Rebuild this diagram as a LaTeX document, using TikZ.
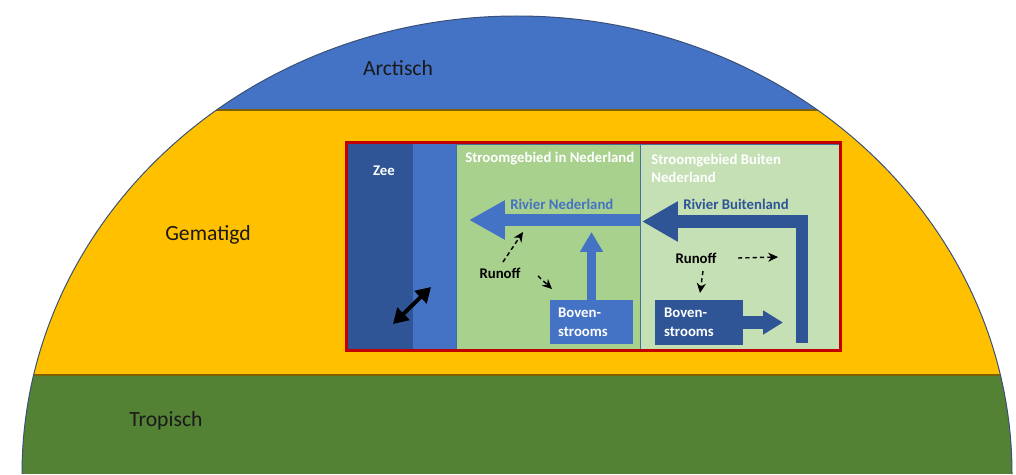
\documentclass[tikz,border=0pt]{standalone}
\usepackage{fontspec}
\setmainfont{Carlito}
\usetikzlibrary{arrows.meta}
\definecolor{cblue}{HTML}{4472C4}
\definecolor{cdark}{HTML}{2F5597}
\definecolor{cyellow}{HTML}{FFC000}
\definecolor{cgreen}{HTML}{548235}
\definecolor{cpanelA}{HTML}{A9D18E}
\definecolor{cpanelB}{HTML}{C5E0B4}
\definecolor{cred}{HTML}{C00000}
\definecolor{cline}{HTML}{7F6000}
\definecolor{cedge}{HTML}{41719C}
\definecolor{carc}{HTML}{3A5078}
\definecolor{ctext}{HTML}{1A1A1A}
\begin{document}
\begin{tikzpicture}[x=0.025cm,y=0.025cm,
  bandlabel/.style={font=\fontsize{15.4pt}{18pt}\selectfont, text=ctext, inner sep=0pt},
  inlabel/.style={font=\fontsize{10.5pt}{12.8pt}\selectfont\bfseries, inner sep=0pt},
  srcbox/.style={font=\fontsize{10.5pt}{13.5pt}\selectfont\bfseries, text=white, align=left,
     inner ysep=0pt, minimum height=31.5pt},
  dasharrow/.style={line width=1pt, dash pattern=on 3pt off 2.2pt,
     -{Stealth[length=7pt,width=6.5pt]}},
  panel/.style={draw=cedge, line width=0.5pt}
]
\useasboundingbox (0,0) rectangle (1016,474);
% climate bands
\begin{scope}
  \clip (22,0) arc[start angle=180, end angle=0, x radius=495, y radius=458] -- cycle;
  \fill[cblue] (0,364) rectangle (1016,474);
  \fill[cyellow] (0,99) rectangle (1016,364);
  \fill[cgreen] (0,0) rectangle (1016,99);
  \draw[cline, line width=1pt] (0,364) -- (1016,364);
  \draw[cline, line width=1pt] (0,99) -- (1016,99);
\end{scope}
\draw[carc, line width=0.7pt] (22,0) arc[start angle=180, end angle=0, x radius=495, y radius=458];
\node[bandlabel] (arctisch) at (398,406) {Arctisch};
\node[bandlabel] (gematigd) at (208,239) {Gematigd};
\node[bandlabel] (tropisch) at (166,53) {Tropisch};

% inner frame
\fill[cdark] (348,124) rectangle (413,331);
\fill[cblue] (413,124) rectangle (456,331);
\filldraw[panel, fill=cpanelA] (456,125) rectangle (640,330);
\filldraw[panel, fill=cpanelB] (640,125) rectangle (839,330);
\draw[cred, line width=2.1pt] (346.5,123.5) rectangle (840.5,331.5);

\node[inlabel, text=white] (zee) at (384,303) {Zee};
\node[inlabel, text=white, anchor=west] (titleNL) at (465,315) {Stroomgebied in Nederland};
\node[inlabel, text=white, anchor=west, align=left] (titleBL) at (651,306) {Stroomgebied Buiten\\Nederland};
\node[inlabel, text=cblue, anchor=west] (rivNL) at (510,270) {Rivier Nederland};
\node[inlabel, text=cdark, anchor=west] (rivBL) at (683,270) {Rivier Buitenland};
\node[inlabel, text=black] (runNL) at (500,201) {Runoff};
\node[inlabel, text=black] (runBL) at (696,216) {Runoff};

\node[srcbox, fill=cblue, text width=47.5pt, inner xsep=5.67pt] (bovNL) at (591.5,152) {Boven-\\strooms};
\node[srcbox, fill=cdark, text width=49.6pt, inner xsep=6.4pt] (bovBL) at (699,151.5) {Boven-\\strooms};

% river arrows
\coordinate (rnStart) at (640,254);
\coordinate (rnTip) at (469,254);
\draw[cblue, line width=8.5pt, -{Triangle[length=25.5pt,width=26.2pt]}] (rnStart) -- (rnTip);
\coordinate (rbStart) at (802,131);
\coordinate (rbTip) at (642,252.5);
\draw[cdark, line width=9.2pt, line join=miter, -{Triangle[length=25.5pt,width=26.9pt]}] (rbStart) |- (rbTip);
\coordinate (upTip) at (591.5,242);
\draw[cblue, line width=6.4pt, -{Triangle[length=14.2pt,width=15.6pt]}] (bovNL.north) -- (upTip);
\coordinate (rtTip) at (783,151.5);
\draw[cdark, line width=9.2pt, -{Triangle[length=14.2pt,width=16.3pt]}] (bovBL.east) -- (rtTip);

% exchange arrow
\coordinate (exA) at (393,150);
\coordinate (exB) at (431,187);
\draw[black, line width=2.8pt, {Triangle[length=10.5pt,width=12pt]}-{Triangle[length=10.5pt,width=12pt]}] (exA) -- (exB);

% runoff arrows
\coordinate (r1a) at (503,212);
\coordinate (r1b) at (523,242);
\coordinate (r2a) at (538,198);
\coordinate (r2b) at (552,185);
\coordinate (r3a) at (703,203);
\coordinate (r3b) at (700,181);
\coordinate (r4a) at (738,216);
\coordinate (r4b) at (778,217);
\draw[dasharrow] (r1a) -- (r1b);
\draw[dasharrow] (r2a) -- (r2b);
\draw[dasharrow] (r3a) -- (r3b);
\draw[dasharrow] (r4a) -- (r4b);
\end{tikzpicture}
\end{document}
